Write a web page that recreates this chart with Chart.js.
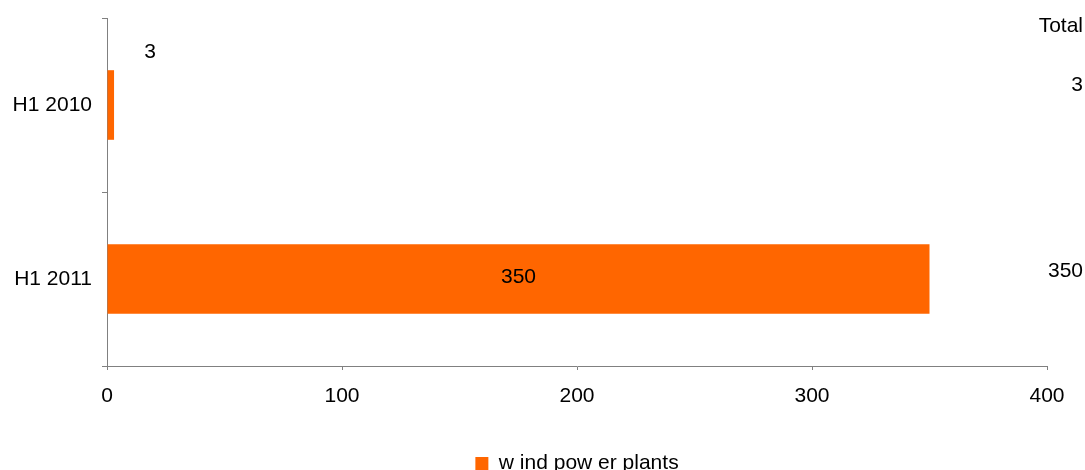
<!DOCTYPE html>
<html>
<head>
<meta charset="utf-8">
<script src="https://cdn.jsdelivr.net/npm/chart.js@4"></script>
<style>
  html, body { margin: 0; padding: 0; background: #fff; }
  #wrap { width: 1085px; height: 470px; }
</style>
</head>
<body>
<div id="wrap"><canvas id="chart"></canvas></div>
<script>
const periods = ['H1 2010', 'H1 2011'];
const windPowerPlants = [3, 350];
const totals = [3, 350];
const xTicks = [0, 100, 200, 300, 400];
const seriesName = 'w ind pow er plants';
const totalsHeading = 'Total';

const ORANGE = '#FF6600';
const AXIS = '#808080';
const FONT = { family: '"Liberation Sans", Arial, sans-serif', size: 21 };

// value labels on the bars plus the "Total" column on the right
const barLabels = {
  id: 'barLabels',
  afterDatasetsDraw(chart) {
    const ctx = chart.ctx;
    const meta = chart.getDatasetMeta(0);
    const yScale = chart.scales.y;
    ctx.save();
    ctx.font = `${FONT.size}px ${FONT.family}`;
    ctx.fillStyle = '#000';
    ctx.textBaseline = 'middle';

    meta.data.forEach((bar, i) => {
      const text = String(windPowerPlants[i]);
      const w = ctx.measureText(text).width;
      const len = bar.x - bar.base;
      ctx.textAlign = 'center';
      if (len > w + 10) {
        ctx.fillText(text, (bar.x + bar.base) / 2, bar.y - 2);
      } else {
        // too short to hold its label: put it up and to the right
        ctx.fillText(text, bar.x + 36, bar.y - 53);
      }
    });

    const right = chart.width - 2;
    ctx.textAlign = 'right';
    ctx.fillText(totalsHeading, right, yScale.top + 8);
    totals.forEach((t, i) => {
      const y = yScale.getPixelForValue(i) - (i === 0 ? 20 : 8);
      ctx.fillText(String(t), right, y);
    });
    ctx.restore();
  }
};

new Chart(document.getElementById('chart'), {
  type: 'bar',
  data: {
    labels: periods,
    datasets: [{
      label: seriesName,
      data: windPowerPlants,
      backgroundColor: ORANGE,
      borderWidth: 0,
      categoryPercentage: 1,
      barPercentage: 0.4
    }]
  },
  options: {
    indexAxis: 'y',
    responsive: true,
    maintainAspectRatio: false,
    animation: false,
    devicePixelRatio: 1,
    layout: { padding: { top: 18, right: 38, left: 0, bottom: -14 } },
    scales: {
      x: {
        min: 0,
        max: 400,
        afterBuildTicks: s => { s.ticks = xTicks.map(v => ({ value: v })); },
        afterFit: s => { s.height = 77; },
        border: { color: AXIS, width: 1 },
        grid: { drawOnChartArea: false, color: AXIS, tickLength: 4 },
        ticks: { color: '#000', font: FONT, padding: 14, maxRotation: 0 }
      },
      y: {
        afterFit: s => { s.width = 107; s.paddingTop = 0; s.paddingBottom = 0; },
        border: { color: AXIS, width: 1 },
        grid: { offset: true, drawOnChartArea: false, color: AXIS, tickLength: 5 },
        ticks: { color: '#000', font: FONT, padding: 10 }
      }
    },
    plugins: {
      legend: {
        position: 'bottom',
        fullSize: false,
        labels: {
          color: '#000',
          font: { ...FONT, lineHeight: 1 },
          boxWidth: 13,
          boxHeight: 13,
          padding: 10
        }
      },
      tooltip: { enabled: false }
    }
  },
  plugins: [barLabels]
});
</script>
</body>
</html>
